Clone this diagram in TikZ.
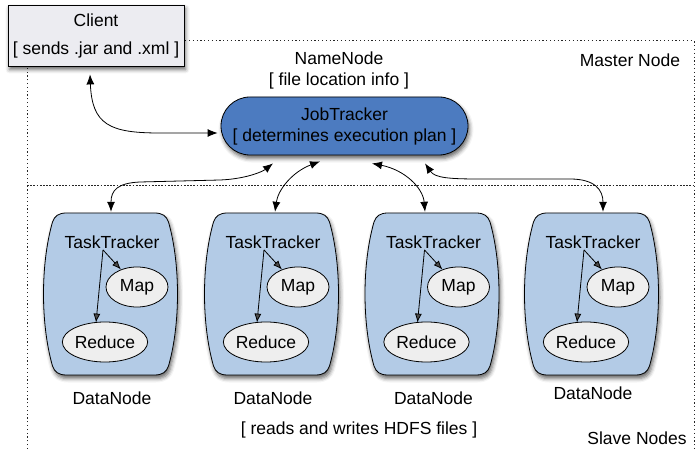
\documentclass[tikz,border=0pt]{standalone}
\usepackage{fontspec}
\setmainfont{Liberation Sans}
\usetikzlibrary{arrows.meta,shapes.geometric,shadows.blur}
\definecolor{clientfill}{HTML}{ECECF1}
\definecolor{jtfill}{HTML}{4C7BC0}
\definecolor{dnfill}{HTML}{B3CBE6}
\definecolor{elfill}{HTML}{EEEEEE}
\tikzset{
  frame/.style={line width=1pt, dash pattern=on 1.2pt off 2.6pt, black!85},
  midline/.style={line width=1pt, dash pattern=on 1.8pt off 1.4pt, black!85},
  bishadow/.style={blur shadow={shadow xshift=1.5pt, shadow yshift=-3.5pt, shadow blur radius=4pt, shadow opacity=60}},
  link/.style={{Latex[length=10pt,width=8pt]}-{Latex[length=10pt,width=8pt]}, line width=0.8pt},
  ttarrow/.style={-{Latex[length=9pt,width=7pt]}, line width=0.8pt},
  clientbox/.style={draw, line width=0.8pt, fill=clientfill, minimum width=176, minimum height=61, align=center, inner sep=0, bishadow},
  jtbox/.style={draw, line width=0.8pt, fill=jtfill, rounded corners=29pt, minimum width=247, minimum height=58, align=center, inner sep=0, bishadow},
  dnbody/.style={draw, line width=0.8pt, fill=dnfill, bishadow},
  ell/.style={ellipse, draw, line width=0.8pt, fill=elfill, inner sep=0},
  lbl/.style={align=center}
}
\newcommand\mkdn[3]{%
\begin{scope}[shift={(#2,294)}]
\path[dnbody] (-44,-81) -- (44,-81) .. controls (52,-81) and (56,-78) .. (58,-72)
  .. controls (70,-30) and (70,30) .. (58,72) .. controls (56,78) and (52,81) .. (44,81)
  -- (-44,81) .. controls (-52,81) and (-56,78) .. (-58,72)
  .. controls (-70,30) and (-70,-30) .. (-58,-72) .. controls (-56,-78) and (-52,-81) .. (-44,-81) -- cycle;
\node[inner sep=0, minimum width=134, minimum height=162] (#1) at (0,0) {};
\node (#1tt) at (1.5,-52) {TaskTracker};
\node[ell, minimum width=62, minimum height=40] (#1map) at (26.5,-7) {Map};
\node[ell, minimum width=84, minimum height=40] (#1red) at (-5.5,48) {Reduce};
\coordinate (#1o) at ([shift={(-9,-2)}]#1tt.south);
\draw[ttarrow] (#1o) -- (#1map);
\draw[ttarrow] (#1o) -- ([shift={(-9,1)}]#1red.north);
\node (#1lab) at (1.5,#3) {DataNode};
\end{scope}}
\begin{document}
\begin{tikzpicture}[x=1pt,y=-1pt, every node/.style={font=\fontsize{17.5}{21}\selectfont}]
\useasboundingbox (0,0) rectangle (697,449);
\draw[frame] (27,449) |- (694,41) -- (694,449);
\draw[midline] (27,186) -- (694,186);

\node[clientbox] (client) at (96,35.5) {Client\\[7pt]{[} sends .jar and .xml ]};
\node[lbl] (nn) at (339,70.5) {NameNode\\{[} file location info ]};
\node (mn) at (630,60) {Master Node};
\node[jtbox] (jt) at (344.5,126) {JobTracker\\{[} determines execution plan ]};

\mkdn{dn1}{110.5}{104}
\mkdn{dn2}{271.5}{104}
\mkdn{dn3}{432}{104}
\mkdn{dn4}{591.5}{99}

\node (hdfs) at (359,430) {{[} reads and writes HDFS files ]};
\node (sn) at (637,438) {Slave Nodes};

\draw[link] ([shift={(-6,8)}]client.south) .. controls (92,125) and (110,133) .. (160,133) -- ([shift={(-3,7)}]jt.west);
\draw[link] ([shift={(0.5,-1)}]dn1.north) .. controls (111,190) and (118,183) .. (140,182) -- (220,180) .. controls (245,179) and (262,172) .. ([shift={(-71.5,8)}]jt.south);
\draw[link] ([shift={(3.5,-1)}]dn2.north) .. controls (278,190) and (292,172) .. ([shift={(-24.5,6)}]jt.south);
\draw[link] ([shift={(-7,-1)}]dn3.north) .. controls (423,188) and (405,170) .. ([shift={(27.5,8)}]jt.south);
\draw[link] ([shift={(11.5,-1)}]dn4.north) .. controls (603,190) and (595,179) .. (570,179) -- (480,179) .. controls (450,179) and (435,178) .. ([shift={(80.5,8)}]jt.south);
\end{tikzpicture}
\end{document}
